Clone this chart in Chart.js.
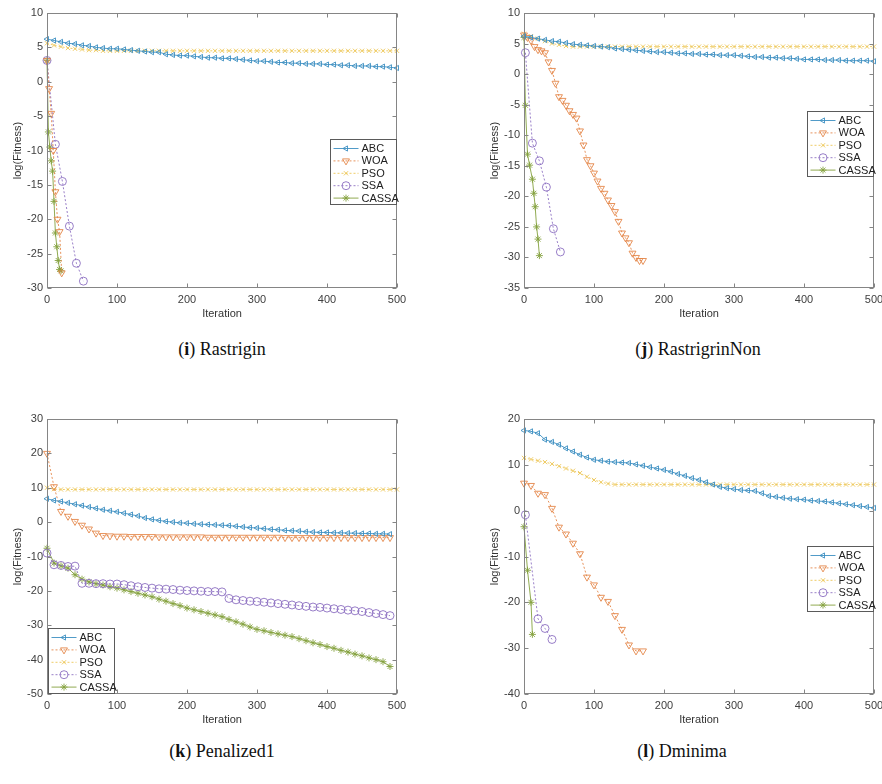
<!DOCTYPE html>
<html>
<head>
<meta charset="utf-8">
<script src="https://cdn.jsdelivr.net/npm/chart.js@4.4.0/dist/chart.umd.min.js"></script>
<style>
  body { margin: 0; background: #fff; }
  #page { position: relative; width: 882px; height: 784px; overflow: hidden; background: #fff; }
  canvas { position: absolute; }
  .caption {
    position: absolute; transform: translateX(-50%); white-space: nowrap;
    font-family: 'Liberation Serif', 'DejaVu Serif', serif; font-size: 18px; color: #111;
  }
</style>
</head>
<body>
<div id="page">
  <canvas id="chartI" width="441" height="325" style="left:0px;top:0px"></canvas>
  <canvas id="chartJ" width="405" height="325" style="left:477px;top:0px"></canvas>
  <canvas id="chartK" width="441" height="325" style="left:0px;top:406px"></canvas>
  <canvas id="chartL" width="405" height="325" style="left:477px;top:406px"></canvas>
  <div class="caption" style="left:222px;top:339px">(<b>i</b>) Rastrigin</div>
  <div class="caption" style="left:698px;top:339px">(<b>j</b>) RastrigrinNon</div>
  <div class="caption" style="left:222px;top:741px">(<b>k</b>) Penalized1</div>
  <div class="caption" style="left:682px;top:741px">(<b>l</b>) Dminima</div>
</div>
<script>
// iteration positions of the markers (every 10 iterations)
const iterations = [0,10,20,30,40,50,60,70,80,90,100,110,120,130,140,150,160,170,180,190,
  200,210,220,230,240,250,260,270,280,290,300,310,320,330,340,350,360,370,380,390,
  400,410,420,430,440,450,460,470,480,490,500];

// (i) Rastrigin
const rastABC = [6.2,6.0,5.8,5.6,5.5,5.3,5.2,5.0,4.9,4.8, 4.8,4.7,4.6,4.5,4.4,4.3,4.3,4.0,3.9,3.8,
  3.8,3.7,3.6,3.5,3.5,3.4,3.4,3.3,3.2,3.1, 3.0,3.0,2.9,2.8,2.8,2.7,2.7,2.6,2.6,2.6,
  2.5,2.5,2.4,2.4,2.3,2.3,2.3,2.2,2.2,2.1, 2.0];
const rastPSO = [5.6,5.3,5.1,4.9,4.8,4.7,4.6,4.6,4.5,4.5, 4.5,4.5,4.5,4.5,4.5,4.5,4.5,4.5,4.5,4.5,
  4.5,4.5,4.5,4.5,4.5,4.5,4.5,4.5,4.5,4.5, 4.5,4.5,4.5,4.5,4.5,4.5,4.5,4.5,4.5,4.5,
  4.5,4.5,4.5,4.5,4.5,4.5,4.5,4.5,4.5,4.5, 4.5];
const rastWOAIter = [0,3,6,9,12,15,18,21];
const rastWOA = [3.1,-1.0,-4.6,-10.0,-16.0,-20.0,-21.8,-27.8];
const rastSSAIter = [0,12,22,32,42,52];
const rastSSA = [3.1,-9.1,-14.5,-21.0,-26.4,-29.0];
const rastCASSAIter = [0,2,4,6,8,10,12,14,16,18,20];
const rastCASSA = [3.1,-7.3,-9.5,-11.5,-13.0,-17.4,-22.0,-24.0,-26.0,-27.3,-27.5];

// (j) RastrigrinNon
const nonABC = [6.2,6.0,5.8,5.6,5.4,5.3,5.1,4.9,4.8,4.7, 4.6,4.5,4.4,4.2,4.1,4.0,3.9,3.8,3.7,3.6,
  3.6,3.5,3.4,3.4,3.3,3.3,3.2,3.2,3.1,3.1, 3.1,3.0,2.9,2.8,2.8,2.7,2.7,2.6,2.6,2.5,
  2.4,2.4,2.4,2.3,2.3,2.3,2.2,2.2,2.2,2.2, 2.1];
const nonPSO = [6.6,6.2,5.8,5.4,5.0,4.8,4.6,4.5,4.5,4.5, 4.5,4.5,4.5,4.5,4.5,4.5,4.5,4.5,4.5,4.5,
  4.5,4.5,4.5,4.5,4.5,4.5,4.5,4.5,4.5,4.5, 4.5,4.5,4.5,4.5,4.5,4.5,4.5,4.5,4.5,4.5,
  4.5,4.5,4.5,4.5,4.5,4.5,4.5,4.5,4.5,4.5, 4.5];
const nonWOAIter = [0,5,10,15,20,25,30,35,40,45,50,55,60,65,70,75,80,85,90,95,
  100,105,110,115,120,125,130,135,140,145,150,155,160,165,170];
const nonWOA = [6.4,6.0,5.5,4.5,4.0,3.8,3.5,2.0,0.6,-1.5, -3.7,-4.3,-5.1,-6.0,-6.6,-7.2,-9.3,-11.6,-14.0,-15.0,
  -16.2,-17.5,-18.7,-19.5,-20.6,-21.5,-22.5,-24.1,-26.0,-26.8, -27.6,-29.3,-30.0,-30.5,-30.5];
const nonSSAIter = [2,12,22,32,42,52];
const nonSSA = [3.5,-11.3,-14.2,-18.5,-25.3,-29.1];
const nonCASSAIter = [0,2,5,8,12,14,16,18,20,22];
const nonCASSA = [6.0,-5.1,-13.1,-14.9,-17.2,-19.5,-21.7,-25.0,-27.0,-29.7];

// (k) Penalized1
const penABC = [6.8,6.3,6.0,5.6,5.2,4.8,4.4,4.0,3.6,3.3, 3.0,2.6,2.2,1.8,1.2,0.8,0.5,0.2,0.0,-0.2,
  -0.3,-0.5,-0.6,-0.7,-0.8,-0.9,-1.0,-1.2,-1.4,-1.6, -1.7,-1.9,-2.1,-2.2,-2.4,-2.5,-2.6,-2.8,-2.9,-3.0,
  -3.0,-3.1,-3.1,-3.2,-3.2,-3.3,-3.3,-3.4,-3.4,-3.5];
const penWOA = [20.0,10.3,3.1,1.7,0.2,-0.9,-2.0,-3.2,-3.9,-4.0, -4.1,-4.1,-4.2,-4.2,-4.2,-4.2,-4.3,-4.3,-4.3,-4.3,
  -4.3,-4.3,-4.3,-4.4,-4.4,-4.4,-4.4,-4.4,-4.4,-4.4, -4.4,-4.4,-4.4,-4.4,-4.5,-4.5,-4.5,-4.5,-4.5,-4.5,
  -4.5,-4.5,-4.5,-4.5,-4.5,-4.5,-4.5,-4.5,-4.5,-4.5];
const penPSO = [10.0,9.6,9.5,9.5,9.5,9.5,9.5,9.5,9.5,9.5, 9.5,9.5,9.5,9.5,9.5,9.5,9.5,9.5,9.5,9.5,
  9.5,9.5,9.5,9.5,9.5,9.5,9.5,9.5,9.5,9.5, 9.5,9.5,9.5,9.5,9.5,9.5,9.5,9.5,9.5,9.5,
  9.5,9.5,9.5,9.5,9.5,9.5,9.5,9.5,9.5,9.5, 9.5];
const penSSA = [-9.0,-12.4,-12.6,-12.9,-12.8,-17.8,-17.8,-17.9,-17.9,-18.0, -18.0,-18.2,-18.5,-18.8,-19.0,-19.2,-19.4,-19.5,-19.6,-19.8,
  -19.9,-20.0,-20.1,-20.2,-20.2,-20.3,-22.2,-22.6,-22.8,-23.0, -23.1,-23.3,-23.5,-23.7,-23.9,-24.1,-24.3,-24.5,-24.7,-24.8,
  -25.0,-25.2,-25.4,-25.6,-25.8,-26.0,-26.3,-26.6,-26.9,-27.2];
const penCASSA = [-7.6,-11.9,-12.7,-13.4,-15.3,-16.6,-17.4,-17.9,-18.3,-18.8, -19.2,-19.7,-20.2,-20.7,-21.2,-21.7,-22.4,-23.0,-23.7,-24.3,
  -25.0,-25.5,-26.0,-26.5,-27.0,-27.5,-28.3,-29.0,-29.7,-30.5, -31.2,-31.6,-32.1,-32.5,-32.9,-33.3,-33.9,-34.5,-35.1,-35.6,
  -36.2,-36.7,-37.3,-37.8,-38.4,-38.9,-39.5,-40.0,-40.6,-42.0];

// (l) Dminima
const dmABC = [17.5,17.3,16.9,15.5,15.0,14.4,13.6,12.9,12.2,11.6, 11.1,10.9,10.7,10.6,10.5,10.4,10.1,9.8,9.5,9.2,
  8.9,8.5,8.0,7.6,7.1,6.7,6.2,5.7,5.2,4.9, 4.7,4.5,4.4,4.3,3.8,3.2,3.0,2.8,2.6,2.5,
  2.4,2.2,2.1,2.0,1.8,1.6,1.4,1.2,1.0,0.8, 0.6];
const dmPSO = [11.5,11.2,10.9,10.6,10.2,9.7,9.2,8.7,8.2,7.4, 6.7,6.2,5.9,5.7,5.7,5.7,5.7,5.7,5.7,5.7,
  5.7,5.7,5.7,5.7,5.7,5.7,5.7,5.7,5.7,5.7, 5.7,5.7,5.7,5.7,5.7,5.7,5.7,5.7,5.7,5.7,
  5.7,5.7,5.7,5.7,5.7,5.7,5.7,5.7,5.7,5.7, 5.7];
const dmWOA = [6.0,5.5,3.8,3.5,0.5,-3.6,-5.1,-7.1,-9.4,-14.5,-16.2,-18.9,-19.8,-22.9,-25.9,-29.3,-30.6,-30.6];
const dmSSAIter = [2,20,30,40];
const dmSSA = [-0.9,-23.6,-25.7,-28.1];
const dmCASSAIter = [0,5,10,12];
const dmCASSA = [-3.5,-13.0,-20.0,-27.0];

const seriesStyle = {
  ABC:   {color: '#3d90c2', point: 'triangle', rot: 270, dash: [],     radius: 3},
  WOA:   {color: '#e4874a', point: 'triangle', rot: 180, dash: [2, 2], radius: 4},
  PSO:   {color: '#edc656', point: 'crossRot', rot: 0,   dash: [2, 2], radius: 3},
  SSA:   {color: '#8d70c2', point: 'circle',   rot: 0,   dash: [2, 2], radius: 4},
  CASSA: {color: '#84a23e', point: 'star',     rot: 0,   dash: [],     radius: 3.5}
};

Chart.defaults.font.family = "'Liberation Sans', Arial, sans-serif";
Chart.defaults.font.size = 11;
Chart.defaults.color = '#444';

function line(name, xs, ys) {
  const s = seriesStyle[name];
  return {
    label: name,
    data: ys.map((y, i) => ({x: xs[i], y: y})),
    borderColor: s.color,
    borderWidth: 0.9,
    borderDash: s.dash,
    pointStyle: s.point,
    pointRotation: s.rot,
    pointRadius: s.radius,
    pointBorderColor: s.color,
    pointBackgroundColor: 'rgba(0,0,0,0)',
    pointBorderWidth: 0.9,
    fill: false,
    tension: 0,
    clip: false
  };
}

// MATLAB-like box with inward ticks on all four sides
const matlabFrame = {
  id: 'matlabFrame',
  afterDraw(chart) {
    const {ctx, chartArea: a, scales} = chart;
    const L = Math.round(a.left) + 0.5, R = Math.round(a.right) - 0.5;
    const T = Math.round(a.top) + 0.5, B = Math.round(a.bottom) - 0.5;
    ctx.save();
    ctx.strokeStyle = '#858585';
    ctx.lineWidth = 1;
    ctx.setLineDash([]);
    ctx.strokeRect(L, T, R - L, B - T);
    ctx.beginPath();
    scales.x.ticks.forEach((t) => {
      const px = Math.round(scales.x.getPixelForValue(t.value)) + 0.5;
      ctx.moveTo(px, B); ctx.lineTo(px, B - 4);
      ctx.moveTo(px, T); ctx.lineTo(px, T + 4);
    });
    scales.y.ticks.forEach((t) => {
      const py = Math.round(scales.y.getPixelForValue(t.value)) + 0.5;
      ctx.moveTo(L, py); ctx.lineTo(L + 4, py);
      ctx.moveTo(R, py); ctx.lineTo(R - 4, py);
    });
    ctx.stroke();
    ctx.restore();
  }
};

// legend box drawn inside the axes
const boxLegend = {
  id: 'boxLegend',
  afterDraw(chart, args, opts) {
    const {ctx, chartArea: a} = chart;
    const w = 66, h = 65, rowH = 12.4;
    const x = opts.side === 'left' ? Math.round(a.left) + 1.5 : Math.round(a.right) - w - 0.5;
    const y = opts.side === 'left' ? Math.round(a.bottom) - h - 0.5
                                   : Math.round(a.top + opts.top * (a.bottom - a.top)) + 0.5;
    ctx.save();
    ctx.fillStyle = '#fff';
    ctx.fillRect(x, y, w, h);
    ctx.strokeStyle = '#5a5a5a';
    ctx.lineWidth = 1;
    ctx.strokeRect(x, y, w, h);
    chart.data.datasets.forEach((ds, i) => {
      const s = seriesStyle[ds.label];
      const ry = y + 9 + i * rowH;
      ctx.strokeStyle = s.color;
      ctx.lineWidth = 0.9;
      ctx.setLineDash(s.dash);
      ctx.beginPath();
      ctx.moveTo(x + 3, ry);
      ctx.lineTo(x + 28, ry);
      ctx.stroke();
      ctx.setLineDash([]);
      ctx.fillStyle = 'rgba(0,0,0,0)';
      Chart.helpers.drawPoint(ctx, {pointStyle: s.point, rotation: s.rot, radius: s.radius, borderWidth: 0.9},
        x + 15.5, ry);
      ctx.fillStyle = '#222';
      ctx.font = "11px 'Liberation Sans', Arial, sans-serif";
      ctx.textBaseline = 'middle';
      ctx.fillText(ds.label, x + 31, ry + 0.5);
    });
    ctx.restore();
  }
};

function panel(id, datasets, yMin, yMax, yStep, padRight, legendOpts) {
  new Chart(document.getElementById(id), {
    type: 'line',
    data: {datasets: datasets},
    plugins: [matlabFrame, boxLegend],
    options: {
      responsive: false,
      animation: false,
      layout: {padding: {left: 0, top: 13, right: padRight, bottom: 0}},
      plugins: {
        legend: {display: false},
        tooltip: {enabled: false},
        boxLegend: legendOpts
      },
      scales: {
        x: {
          type: 'linear', min: 0, max: 500,
          ticks: {stepSize: 100, padding: 5, maxRotation: 0, color: '#404040'},
          grid: {display: false, drawTicks: false},
          border: {display: false},
          title: {display: true, text: 'Iteration', color: '#333', padding: {top: 0, bottom: 4}},
          afterFit(s) { s.height = 37; s.paddingLeft = 0; s.paddingRight = 0; }
        },
        y: {
          type: 'linear', min: yMin, max: yMax,
          ticks: {stepSize: yStep, padding: 4, color: '#404040'},
          grid: {display: false, drawTicks: false},
          border: {display: false},
          title: {display: true, text: 'log(Fitness)', color: '#333', padding: {top: 11, bottom: 0}},
          afterFit(s) { s.width = 47; s.paddingTop = 0; s.paddingBottom = 0; }
        }
      }
    }
  });
}

panel('chartI', [
  line('ABC', iterations, rastABC),
  line('WOA', rastWOAIter, rastWOA),
  line('PSO', iterations, rastPSO),
  line('SSA', rastSSAIter, rastSSA),
  line('CASSA', rastCASSAIter, rastCASSA)
], -30, 10, 5, 44, {side: 'right', top: 0.458});

panel('chartJ', [
  line('ABC', iterations, nonABC),
  line('WOA', nonWOAIter, nonWOA),
  line('PSO', iterations, nonPSO),
  line('SSA', nonSSAIter, nonSSA),
  line('CASSA', nonCASSAIter, nonCASSA)
], -35, 10, 5, 8, {side: 'right', top: 0.356});

panel('chartK', [
  line('ABC', iterations, penABC),
  line('WOA', iterations, penWOA),
  line('PSO', iterations, penPSO),
  line('SSA', iterations, penSSA),
  line('CASSA', iterations, penCASSA)
], -50, 30, 10, 44, {side: 'left'});

panel('chartL', [
  line('ABC', iterations, dmABC),
  line('WOA', iterations, dmWOA),
  line('PSO', iterations, dmPSO),
  line('SSA', dmSSAIter, dmSSA),
  line('CASSA', dmCASSAIter, dmCASSA)
], -40, 20, 10, 8, {side: 'right', top: 0.462});
</script>
</body>
</html>
